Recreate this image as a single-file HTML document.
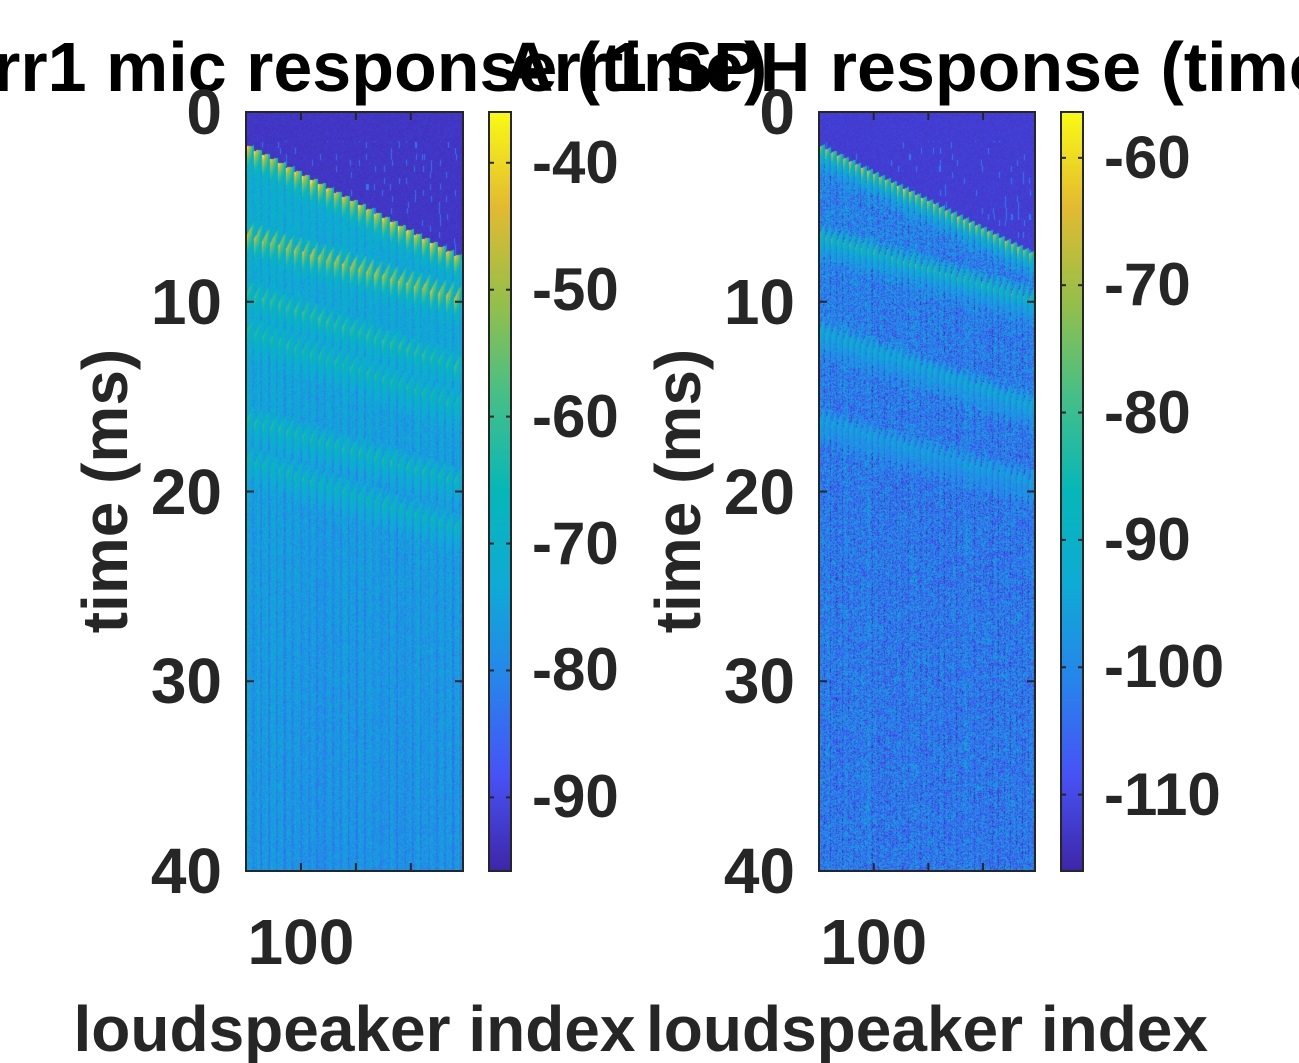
<!DOCTYPE html>
<html><head><meta charset="utf-8"><style>
html,body{margin:0;padding:0;background:#fff;}
#root{position:relative;width:1299px;height:1063px;overflow:hidden;font-family:"Liberation Sans",Arial,sans-serif;font-weight:bold;}
.t{position:absolute;white-space:nowrap;color:#262626;font-size:64px;line-height:1;}
.cbl{font-size:60px;}
.title{position:absolute;white-space:nowrap;color:#000;font-size:70px;line-height:1;transform:translateX(-50%);}
canvas{position:absolute;}
</style></head><body>
<div id="root">
<div class="title" style="left:355px;top:32px">Arr1 mic response (time)</div>
<div class="title" style="left:927px;top:32px">Arr1 SPH response (time)</div>
<canvas id="img1" width="217" height="759" style="left:246px;top:112px"></canvas>
<canvas id="img2" width="217" height="759" style="left:819px;top:112px"></canvas>
<canvas id="cb1" width="22" height="759" style="left:489px;top:112px"></canvas>
<canvas id="cb2" width="22" height="759" style="left:1061px;top:112px"></canvas>
<svg id="ov" width="1299" height="1063" style="position:absolute;left:0;top:0"></svg>
</div>
<script>
// ---- data ----
const yTicks=[0,10,20,30,40];
const xTicks=[100,200,300];
const xTickLabels=["100","",""];
const cbTicks1=[-40,-50,-60,-70,-80,-90];
const cbTicks2=[-60,-70,-80,-90,-100,-110];
const clim1=[-95.8,-36];
const clim2=[-116,-56.4];
const nSpk=[0,395];
// wavefronts: arrival (ms) at first and last speaker, strength (dB above base)
const frontStart1=[1.8,6.5,9.5,11.5,16.2,18.3];
const frontEnd1=[7.8,9.9,13.5,15.5,19.5,22];
const frontGain1=[36,28,14,12,13,12];
const baseLevel1=[-70,-72,-75,-76,-77];   // at 0,10,20,30,40 ms
const frontStart2=[1.8,6.5,11.5,16.2];
const frontEnd2=[7.6,9.9,15.5,19.5];
const frontGain2=[38,22,14,10];
const baseLevel2=[-100,-101,-102,-102,-102];
const floor1=-94, floor2=-113;

const P=[[0,62,38,168],[0.125,71,82,246],[0.25,39,132,236],[0.375,15,170,214],[0.5,6,183,185],[0.625,69,191,136],[0.75,150,191,74],[0.875,227,186,49],[1,249,250,20]];
function cmap(f){f=Math.max(0,Math.min(1,f));for(let i=1;i<P.length;i++){if(f<=P[i][0]){const a=P[i-1],b=P[i],u=(f-a[0])/(b[0]-a[0]);return [a[1]+u*(b[1]-a[1]),a[2]+u*(b[2]-a[2]),a[3]+u*(b[3]-a[3])];}}return [249,250,20];}
function hash(x,y,s){let h=(x*374761393+y*668265263+s*1442695041)|0;h=(h^(h>>>13))*1274126177|0;return ((h^(h>>>16))>>>0)/4294967296;}
const W=217,H=759;
const yS=t=>112+t/40*759;
function interp(arr,t){const p=t/10;const i=Math.min(3,Math.floor(p));return arr[i]+(arr[i+1]-arr[i])*(p-i);}
function draw(id,fs,fe,fg,base,floor,clim,noise,seed,period){
  const c=document.getElementById(id).getContext('2d');const im=c.createImageData(W,H);
  for(let x=0;x<W;x++){const s=x/W;const ph=(x%period)/period;const colv=(hash(x,0,seed+11)-0.5)*4;
    for(let y=0;y<H;y++){const t=y/H*40;let v;
      const t0=fs[0]+(fe[0]-fs[0])*s;
      if(t<t0-0.3*ph){v=floor+(hash(x,Math.floor(y/6),seed)<0.08&&ph<0.3&&t>1.5?10:0)+hash(x,y,seed+7)*2;}
      else{v=interp(base,t)+(hash(x,y,seed)-0.5)*noise+colv;
        for(let k=0;k<fs.length;k++){const tk=fs[k]+(fe[k]-fs[k])*s;const d=t-tk+0.9*ph;
          if(d>0&&d<1.6){v=Math.max(v,interp(base,t)+fg[k]*Math.pow(1-d/1.6,1.5)*(1-0.5*ph)*(0.85+0.3*hash(x,k,seed+3)));}}
        if(ph>0.7) v-=4;}
      const col=cmap((v-clim[0])/(clim[1]-clim[0]));const o=(y*W+x)*4;
      im.data[o]=col[0];im.data[o+1]=col[1];im.data[o+2]=col[2];im.data[o+3]=255;}}
  c.putImageData(im,0,0);}
draw('img1',frontStart1,frontEnd1,frontGain1,baseLevel1,floor1,clim1,9,1,8);
draw('img2',frontStart2,frontEnd2,frontGain2,baseLevel2,floor2,clim2,20,2,6);
function cbar(id){const c=document.getElementById(id).getContext('2d');for(let y=0;y<H;y++){const col=cmap(1-y/(H-1));c.fillStyle=`rgb(${col.map(Math.round).join(',')})`;c.fillRect(0,y,22,1);}}
cbar('cb1');cbar('cb2');

const ov=document.getElementById('ov');const NS='http://www.w3.org/2000/svg';
function ln(x1,y1,x2,y2,nm){const l=document.createElementNS(NS,'line');l.setAttribute('x1',x1);l.setAttribute('y1',y1);l.setAttribute('x2',x2);l.setAttribute('y2',y2);l.setAttribute('stroke','#262626');l.setAttribute('stroke-width','2');


ov.appendChild(l);}
function rect(x,y,w,h,nm){const r=document.createElementNS(NS,'rect');r.setAttribute('x',x);r.setAttribute('y',y);r.setAttribute('width',w);r.setAttribute('height',h);r.setAttribute('fill','none');r.setAttribute('stroke','#262626');r.setAttribute('stroke-width','2');


ov.appendChild(r);}
function txt(s,x,y,anchor,nm,extra,cls){const d=document.createElement('div');d.className='t'+(cls?' '+cls:'');d.textContent=s;d.style.left=x+'px';d.style.top=y+'px';d.style.transform=extra||(anchor==='r'?'translate(-100%,-50%)':anchor==='c'?'translate(-50%,0)':'translate(0,-50%)');


document.getElementById('root').appendChild(d);}
[[246,463],[819,1035]].forEach(([x0,x1],pi)=>{
  rect(x0,112,x1-x0,759,'axes-box');
  const xs=v=>x0+(v-nSpk[0])/(nSpk[1]-nSpk[0])*(x1-x0);
  xTicks.forEach((v,i)=>{const X=xs(v);ln(X,871,X,863,'x-tick');ln(X,112,X,120,'x-tick');if(xTickLabels[i])txt(xTickLabels[i],X,910,'c','x-tick-label');});
  yTicks.forEach(v=>{const Y=yS(v);ln(x0,Y,x0+8,Y,'y-tick');ln(x1,Y,x1-8,Y,'y-tick');txt(String(v),x0-24,Y,'r','y-tick-label');});
  txt('loudspeaker index',(x0+x1)/2,997,'c','x-axis-title');
  txt('time (ms)',x0-141,491,'c','y-axis-title','translate(-50%,-50%) rotate(-90deg)');
});
[[489,cbTicks1,clim1],[1061,cbTicks2,clim2]].forEach(([cx,ticks,cl])=>{
  rect(cx,112,22,759,'colorbar-box');
  ticks.forEach(v=>{const Y=112+(cl[1]-v)/(cl[1]-cl[0])*759;ln(cx,Y,cx+5,Y,'colorbar-tick');ln(cx+22,Y,cx+17,Y,'colorbar-tick');txt(String(v),cx+43,Y,'l','colorbar-tick-label',null,'cbl');});
});
</script>
</body></html>
